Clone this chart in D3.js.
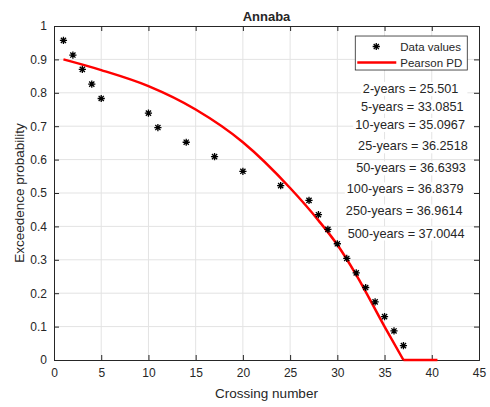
<!DOCTYPE html>
<html>
<head>
<meta charset="utf-8">
<script src="https://cdn.jsdelivr.net/npm/d3@7"></script>
<style>
  body { margin: 0; background: #fff; }
  text { font-family: "Liberation Sans", Arial, sans-serif; fill: #262626; }
</style>
</head>
<body>
<div id="graph"></div>
<script>
// observed data (crossing number, exceedence probability)
const crossing = [1, 2, 3, 4, 5, 10, 11, 14, 17, 20, 24, 27, 28, 29, 30, 31, 32, 33, 34, 35, 36, 37]
const exceed = [0.957, 0.913, 0.870, 0.826, 0.783, 0.739, 0.696, 0.652, 0.609, 0.565, 0.522,
                0.478, 0.435, 0.391, 0.348, 0.304, 0.261, 0.217, 0.174, 0.130, 0.087, 0.043]

// fitted Pearson PD curve
const pearsonX = [1, 5, 10, 15, 20, 25, 28, 30, 32, 35, 37]
const pearsonY = [0.900, 0.868, 0.820, 0.750, 0.652, 0.515, 0.418, 0.345, 0.255, 0.100, 0]
const tailX = [37, 40.6]
const tailY = [0, 0]

// return levels
const returnLabels = ["2-years = 25.501", "5-years = 33.0851", "10-years = 35.0967", "25-years = 36.2518",
                      "50-years = 36.6393", "100-years = 36.8379", "250-years = 36.9614", "500-years = 37.0044"]
// where each label sits (left x, centre y in data units)
const labelX = [32.7, 32.5, 31.9, 32.2, 32.0, 31.0, 30.9, 31.1]
const labelY = [0.813, 0.760, 0.705, 0.641, 0.575, 0.512, 0.446, 0.380]

const xTicks = [0, 5, 10, 15, 20, 25, 30, 35, 40, 45]
const yTicks = [0, 0.1, 0.2, 0.3, 0.4, 0.5, 0.6, 0.7, 0.8, 0.9, 1]

const W = 490, H = 407
const margin = {top: 26, right: 11, bottom: 47, left: 54}
const width = W - margin.left - margin.right
const height = H - margin.top - margin.bottom
const axisColor = "#262626"

const svg = d3.select("#graph").append("svg")
    .attr("width", W)
    .attr("height", H)

const g = svg.append("g")
    .attr("transform", `translate(${margin.left},${margin.top})`)

const x = d3.scaleLinear().domain([0, 45]).range([0, width])
const y = d3.scaleLinear().domain([0, 1]).range([height, 0])

// grid
g.selectAll("xgrid")
    .data(xTicks.slice(1, -1))
    .enter()
    .append("line")
      .attr("x1", d => x(d)).attr("x2", d => x(d))
      .attr("y1", 0).attr("y2", height)
      .attr("stroke", "#e3e3e3")
g.selectAll("ygrid")
    .data(yTicks.slice(1, -1))
    .enter()
    .append("line")
      .attr("x1", 0).attr("x2", width)
      .attr("y1", d => y(d)).attr("y2", d => y(d))
      .attr("stroke", "#e3e3e3")

// axes, ticks pointing inward on every side
const fmt = d3.format("")
g.append("g")
    .attr("transform", `translate(0,${height})`)
    .call(d3.axisBottom(x).tickValues(xTicks).tickSize(-5).tickPadding(8).tickFormat(fmt))
g.append("g")
    .call(d3.axisTop(x).tickValues(xTicks).tickSize(-5).tickFormat(""))
g.append("g")
    .call(d3.axisLeft(y).tickValues(yTicks).tickSize(-5).tickPadding(7).tickFormat(fmt))
g.append("g")
    .attr("transform", `translate(${width},0)`)
    .call(d3.axisRight(y).tickValues(yTicks).tickSize(-5).tickFormat(""))

g.selectAll(".domain, .tick line").attr("stroke", axisColor)
g.selectAll(".tick text")
    .style("font-family", "'Liberation Sans', Arial, sans-serif")
    .style("font-size", "12px")
    .attr("fill", axisColor)

// fitted curve
const line = d3.line()
    .x(d => x(d[0]))
    .y(d => y(d[1]))
g.append("path")
    .datum(d3.zip(pearsonX, pearsonY))
    .attr("fill", "none")
    .attr("stroke", "#ff0000")
    .attr("stroke-width", 2.5)
    .attr("d", line.curve(d3.curveMonotoneX))
g.append("path")
    .datum(d3.zip(tailX, tailY))
    .attr("fill", "none")
    .attr("stroke", "#ff0000")
    .attr("stroke-width", 2.5)
    .attr("d", line.curve(d3.curveLinear))

// asterisk marker
const r = 3.6, rd = r * 0.72
const star = `M${-r},0H${r}M0,${-r}V${r}M${-rd},${-rd}L${rd},${rd}M${-rd},${rd}L${rd},${-rd}`

g.selectAll("stars")
    .data(d3.zip(crossing, exceed))
    .enter()
    .append("path")
      .attr("transform", d => `translate(${x(d[0])},${y(d[1])})`)
      .attr("d", star)
      .attr("fill", "none")
      .attr("stroke", "#000")
      .attr("stroke-width", 1.3)

// return level labels with white background
const labels = g.selectAll("rlabel")
    .data(returnLabels)
    .enter()
    .append("g")
labels.append("rect").attr("fill", "#fff")
labels.append("text")
    .attr("x", (d, i) => x(labelX[i]))
    .attr("y", (d, i) => y(labelY[i]))
    .attr("dy", "0.35em")
    .style("font-size", "12.7px")
    .text(d => d)
labels.each(function() {
    const t = d3.select(this).select("text").node().getBBox()
    d3.select(this).select("rect")
        .attr("x", t.x - 2).attr("y", t.y)
        .attr("width", t.width + 11).attr("height", t.height)
})

// legend
const lg = g.append("g")
    .attr("transform", `translate(${x(31.9)},${y(0.97)})`)
lg.append("rect")
    .attr("width", 112).attr("height", 34)
    .attr("fill", "#fff")
    .attr("stroke", axisColor)
    .attr("stroke-width", 0.8)
lg.append("path")
    .attr("transform", "translate(21,10.5)")
    .attr("d", star)
    .attr("fill", "none")
    .attr("stroke", "#000")
    .attr("stroke-width", 1.3)
lg.append("line")
    .attr("x1", 2).attr("x2", 41)
    .attr("y1", 26.5).attr("y2", 26.5)
    .attr("stroke", "#ff0000")
    .attr("stroke-width", 2.5)
lg.append("text")
    .attr("x", 45).attr("y", 10.5).attr("dy", "0.35em")
    .style("font-size", "11.5px")
    .text("Data values")
lg.append("text")
    .attr("x", 45).attr("y", 26.5).attr("dy", "0.35em")
    .style("font-size", "11.5px")
    .text("Pearson PD")

// titles
svg.append("text")
    .attr("x", margin.left + width / 2).attr("y", 16).attr("dy", "0.35em")
    .attr("text-anchor", "middle")
    .style("font-size", "13px")
    .style("font-weight", "bold")
    .attr("fill", "#000")
    .text("Annaba")
svg.append("text")
    .attr("x", margin.left + width / 2).attr("y", 393).attr("dy", "0.35em")
    .attr("text-anchor", "middle")
    .style("font-size", "13.5px")
    .text("Crossing number")
svg.append("text")
    .attr("transform", `translate(19,${margin.top + height / 2}) rotate(-90)`)
    .attr("dy", "0.35em")
    .attr("text-anchor", "middle")
    .style("font-size", "13.5px")
    .text("Exceedence probability")
</script>
</body>
</html>
